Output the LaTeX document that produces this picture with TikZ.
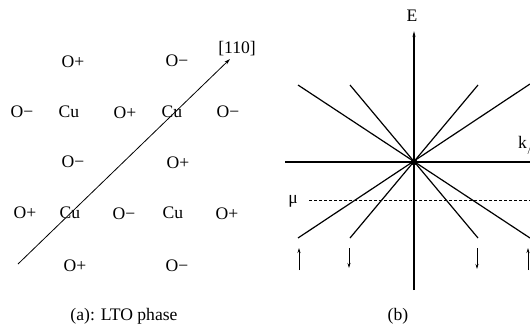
\documentclass[tikz,border=0pt]{standalone}
\usepackage{fontspec}
\setmainfont{Liberation Serif}
\usetikzlibrary{arrows.meta}
\begin{document}
\begin{tikzpicture}[x=1pt,y=-1pt,
  lbl/.style={inner sep=0pt,font=\fontsize{17.6}{20}\selectfont},
  band/.style={line width=1.2pt},
  spinarrow/.style={line width=0.9pt,-{Stealth[length=5pt,width=3pt]}}]
\useasboundingbox (0,0) rectangle (530,327);
% ---------- (a) ----------
\node[lbl] (o1) at (73,62) {O+};
\node[lbl] (o2) at (177,61) {O−};
\node[lbl] (o3) at (22,112) {O−};
\node[lbl] (cu1) at (69,112) {Cu};
\node[lbl] (o4) at (125,113) {O+};
\node[lbl] (cu2) at (172,112) {Cu};
\node[lbl] (o5) at (228,112) {O−};
\node[lbl] (o6) at (73,162) {O−};
\node[lbl] (o7) at (178,163) {O+};
\node[lbl] (o8) at (25,213) {O+};
\node[lbl] (cu3) at (70,213) {Cu};
\node[lbl] (o9) at (124,214) {O−};
\node[lbl] (cu4) at (173,213) {Cu};
\node[lbl] (o10) at (227,214) {O+};
\node[lbl] (o11) at (75,266) {O+};
\node[lbl] (o12) at (177,266) {O−};
\node[lbl] (dir) at (237,49) {[110]};
\node[lbl] (capa) at (124,316) {(a): LTO phase};
\coordinate (d0) at (18,264);
\coordinate (d1) at (230,59);
\draw[line width=0.8pt,-{Stealth[length=6pt,width=3.5pt]}] (d0) -- (d1);
% ---------- (b) ----------
\coordinate (c) at (414,162);
\coordinate (etop) at (414,31);
\coordinate (ebot) at (414,290);
\coordinate (kl) at (285,162);
\coordinate (kr) at (532,162);
\draw[band,-{Stealth[length=6pt,width=3pt]}] (ebot) -- (etop);
\draw[band] (kl) -- (kr);
\node[lbl] (E) at (412,16) {E};
\node[lbl,anchor=west] (k) at (518,145) {k$_{/\!/}$};
\coordinate (a1) at (298,85);  \coordinate (b1) at (530,238);
\coordinate (a2) at (350,85);  \coordinate (b2) at (478,238);
\coordinate (a3) at (478,85);  \coordinate (b3) at (350,238);
\coordinate (a4) at (530,84);  \coordinate (b4) at (298,238);
\draw[band] (a1) -- (b1);
\draw[band] (a2) -- (b2);
\draw[band] (a3) -- (b3);
\draw[band] (a4) -- (b4);
\fill (c) circle (3.4pt);
\node[lbl] (mu) at (293,201) {μ};
\coordinate (m0) at (309,200);
\coordinate (m1) at (532,200);
\draw[line width=0.9pt,dash pattern=on 3pt off 2pt] (m0) -- (m1);
\coordinate (s1a) at (299,270); \coordinate (s1b) at (299,248);
\coordinate (s2a) at (349,248); \coordinate (s2b) at (349,268);
\coordinate (s3a) at (477,248); \coordinate (s3b) at (477,269);
\coordinate (s4a) at (528,270); \coordinate (s4b) at (528,248);
\draw[spinarrow] (s1a) -- (s1b);
\draw[spinarrow] (s2a) -- (s2b);
\draw[spinarrow] (s3a) -- (s3b);
\draw[spinarrow] (s4a) -- (s4b);
\node[lbl] (capb) at (398,316) {(b)};
\end{tikzpicture}
\end{document}
